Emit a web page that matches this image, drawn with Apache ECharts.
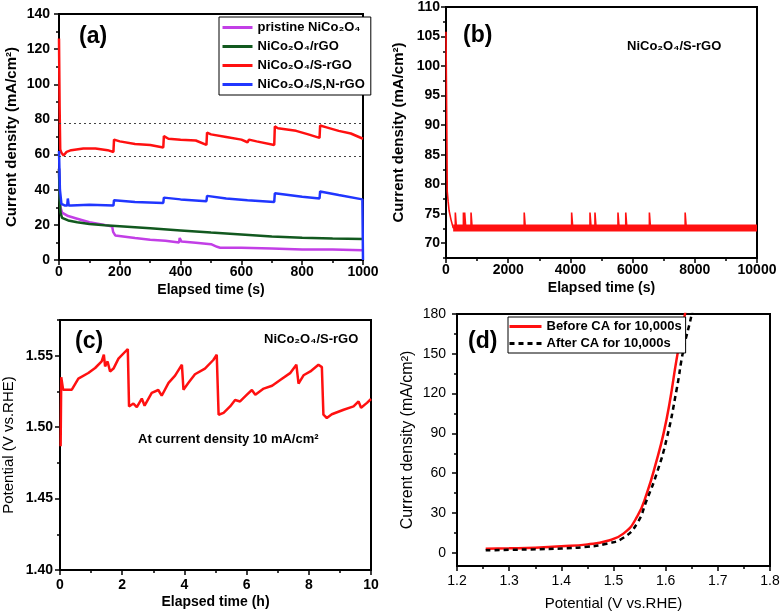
<!DOCTYPE html>
<html><head><meta charset="utf-8">
<script src="https://cdn.jsdelivr.net/npm/echarts@6/dist/echarts.min.js"></script>
<style>html,body{margin:0;padding:0;background:#fff}#c{width:780px;height:614px}</style>
</head><body><div id="c"></div>
<script>
// ---------- Panel (a) data ----------
const aNames = ['pristine NiCo\u2082O\u2084', 'NiCo\u2082O\u2084/rGO', 'NiCo\u2082O\u2084/S-rGO', 'NiCo\u2082O\u2084/S,N-rGO'];
const aPristineT = [0,2,5,10,30,60,100,150,175,178,185,250,300,350,395,397,403,450,500,520,530,600,700,800,900,1000];
const aPristineV = [52,38,30,27,25,23.5,21.5,20,19,16,14,12.5,11.5,11,10,12.5,10.5,9.8,9,7.5,7,7,6.5,6,6,5.5];
const aRgoT = [0,2,5,10,30,60,100,150,200,300,400,500,600,700,800,900,1000];
const aRgoV = [52,35,27,24,22.5,21.5,20.5,19.8,19.2,18,16.8,15.6,14.5,13.4,12.6,12.2,12];
const aSrgoT = [0,2,4,8,15,25,40,80,120,160,179,181,200,250,300,343,345,360,400,450,485,487,500,550,600,620,625,650,708,710,720,780,800,820,857,859,880,920,960,1000];
const aSrgoV = [126,87,63,61,59.5,61.5,62.5,63.5,63.5,62.5,61.5,68.5,67.5,66,65.5,64,70.5,69,68.5,68,65.5,72.5,71.5,70,68.5,67,68.5,67.5,65.5,76,75,73.5,72.5,71.5,69.5,76.5,75.5,73.5,72,69];
const aSnrgoT = [0,3,8,20,27,29,32,40,100,179,181,250,343,345,400,485,487,550,620,708,710,800,857,859,920,998,1000];
const aSnrgoV = [62,40,32,31,31,35,31,31,31.5,31,34,33,32.5,35.5,34.5,33.5,36.5,35,34,33,38,36,35,39,37,34.5,0];
const aRefLines = [78, 59];
const aXMajor = [0,200,400,600,800,1000], aXMinor = [100,300,500,700,900];
const aYMajor = [0,20,40,60,80,100,120,140], aYMinor = [10,30,50,70,90,110,130];

// ---------- Panel (b) data ----------
const bStartT = [0,25,40,70,100,160,230];
const bStartV = [105.8,90,78.8,77,75.5,74,72.6];
const bBase = 72.6, bEnd = 10000, bSpikePeak = 75.2;
const bSpikeT = [300,560,600,805,2515,4040,4630,4790,5530,5780,6540,7690];
const bXMajor = [0,2000,4000,6000,8000,10000], bXMinor = [1000,3000,5000,7000,9000];
const bYMajor = [70,75,80,85,90,95,100,105,110], bYMinor = [67.5,72.5,77.5,82.5,87.5,92.5,97.5,102.5,107.5];

// ---------- Panel (c) data ----------
const cT = [0.02,0.04,0.1,0.38,0.59,0.91,1.13,1.34,1.41,1.45,1.53,1.61,1.72,1.88,2.18,2.22,2.36,2.47,2.63,2.72,2.95,3.16,3.27,3.49,3.7,3.92,3.97,4.13,4.34,4.66,4.93,5.04,5.1,5.26,5.47,5.63,5.79,6.01,6.17,6.28,6.55,6.82,7.08,7.41,7.6,7.67,7.83,8.05,8.31,8.42,8.47,8.58,8.74,9.12,9.44,9.6,9.68,9.87,10];
const cV = [1.4866,1.535,1.5262,1.5262,1.534,1.5379,1.5414,1.546,1.5507,1.5425,1.546,1.539,1.541,1.548,1.5547,1.5145,1.5165,1.514,1.52,1.515,1.524,1.526,1.522,1.531,1.536,1.5437,1.5262,1.531,1.537,1.541,1.547,1.5507,1.5087,1.51,1.5145,1.519,1.518,1.5227,1.526,1.5227,1.527,1.529,1.533,1.538,1.5437,1.5305,1.5363,1.539,1.5437,1.542,1.5087,1.5064,1.509,1.5122,1.5145,1.518,1.5136,1.517,1.5197];
const cXMajor = [0,2,4,6,8,10], cXMinor = [1,3,5,7,9];
const cYMajor = [1.40,1.45,1.50,1.55], cYMinor = [1.425,1.475,1.525,1.575];

// ---------- Panel (d) data ----------
const dNames = ['Before CA for 10,000s', 'After CA for 10,000s'];
const dBeforeE = [1.255,1.3,1.35,1.4,1.45,1.487,1.519,1.545,1.564,1.583,1.596,1.608,1.621,1.637,1.645];
const dBeforeJ = [3,3.3,3.8,4.8,6.3,8.8,14.4,27,45,70,90,114,146,180,198];
const dAfterE = [1.255,1.3,1.35,1.4,1.45,1.487,1.519,1.545,1.564,1.583,1.602,1.621,1.634,1.65,1.658];
const dAfterJ = [1.8,2.2,2.6,3.2,4.5,6.8,11.3,22,40,60,86,123,153,180,198];
const dXMajor = [1.2,1.3,1.4,1.5,1.6,1.7,1.8], dXMinor = [1.25,1.35,1.45,1.55,1.65,1.75];
const dYMajor = [0,30,60,90,120,150,180], dYMinor = [15,45,75,105,135,165];

// ---------- helpers ----------
const FONT = '"Liberation Sans", Arial, sans-serif';
const zip = (a, b) => a.map((v, i) => [v, b[i]]);

function axes(dim, g, c) {
  const pos = dim === 'x' ? 'bottom' : 'left';
  const main = {
    type: 'value', gridIndex: g, min: c.min, max: c.max, position: pos,
    axisLine: {show: true, onZero: false, lineStyle: {color: '#000', width: 2}},
    axisTick: {show: true, inside: false, length: 5, customValues: c.major, lineStyle: {color: '#000', width: 1.5}},
    axisLabel: {show: true, customValues: c.major, formatter: c.fmt, color: '#000', fontFamily: FONT,
      fontSize: c.fs || 14, fontWeight: c.fw || 'bold', margin: c.margin},
    splitLine: {show: false},
    name: c.name, nameLocation: 'middle', nameGap: c.gap,
    nameTextStyle: {color: '#000', fontFamily: FONT, fontSize: c.nfs || 14, fontWeight: c.nfw || 'bold'}
  };
  const minor = {
    type: 'value', gridIndex: g, min: c.min, max: c.max, position: pos,
    axisLine: {show: false, onZero: false},
    axisTick: {show: true, inside: false, length: 3, customValues: c.minor, lineStyle: {color: '#000', width: 1.5}},
    axisLabel: {show: false}, splitLine: {show: false}
  };
  return [main, minor];
}

const int = v => String(Math.round(v));
const f2 = v => v.toFixed(2);
const f1 = v => v.toFixed(1);

const xAxis = [].concat(
  axes('x', 0, {min: 0, max: 1000, major: aXMajor, minor: aXMinor, fmt: int, margin: 5, name: 'Elapsed time (s)', gap: 23}),
  axes('x', 1, {min: 0, max: 10000, major: bXMajor, minor: bXMinor, fmt: int, margin: 5, name: 'Elapsed time (s)', gap: 23}),
  axes('x', 2, {min: 0, max: 10, major: cXMajor, minor: cXMinor, fmt: int, margin: 8, name: 'Elapsed time (h)', gap: 25}),
  axes('x', 3, {min: 1.2, max: 1.8, major: dXMajor, minor: dXMinor, fmt: f1, margin: 8, fw: 'normal', name: 'Potential (V vs.RHE)', gap: 30, nfw: 'normal', nfs: 15})
);
const yAxis = [].concat(
  axes('y', 0, {min: 0, max: 140, major: aYMajor, minor: aYMinor, fmt: int, margin: 9, name: 'Current density (mA/cm\u00b2)', gap: 40, nfs: 15}),
  axes('y', 1, {min: 67.5, max: 110, major: bYMajor, minor: bYMinor, fmt: int, margin: 6, name: 'Current density (mA/cm\u00b2)', gap: 40, nfs: 15}),
  axes('y', 2, {min: 1.40, max: 1.575, major: cYMajor, minor: cYMinor, fmt: f2, margin: 7, name: 'Potential (V vs.RHE)', gap: 44, nfw: 'normal', nfs: 15}),
  axes('y', 3, {min: -10, max: 180, major: dYMajor, minor: dYMinor, fmt: int, margin: 11, fw: 'normal', name: 'Current density (mA/cm\u00b2)', gap: 41, nfw: 'normal', nfs: 16})
);

const gridBase = {show: true, borderColor: '#000', borderWidth: 2, backgroundColor: 'transparent', containLabel: false, outerBoundsMode: 'none'};
const grid = [
  Object.assign({left: 59, top: 14, width: 304, height: 246}, gridBase),
  Object.assign({left: 446, top: 7, width: 311, height: 251}, gridBase),
  Object.assign({left: 60, top: 320, width: 311, height: 250}, gridBase),
  Object.assign({left: 457, top: 314, width: 313, height: 252}, gridBase)
];

// panel b spike series built from data arrays
const bSpikeData = zip(bStartT, bStartV);
bSpikeT.forEach(t => { bSpikeData.push([t - 1, bBase], [t, bSpikePeak], [t + 35, bSpikePeak], [t + 36, bBase]); });
bSpikeData.push([bEnd, bBase]);

function line(name, g, data, color, width, extra) {
  return Object.assign({
    name, type: 'line', xAxisIndex: 2 * g, yAxisIndex: 2 * g, data,
    symbol: 'none', showSymbol: false, animation: false,
    lineStyle: {color, width}, itemStyle: {color}, z: 3
  }, extra || {});
}

const series = [
  line(aNames[0], 0, zip(aPristineT, aPristineV), '#c23fe6', 2.5),
  line(aNames[1], 0, zip(aRgoT, aRgoV), '#12591f', 2.5),
  line(aNames[2], 0, zip(aSrgoT, aSrgoV), '#ff1010', 2.5, {
    markLine: {silent: true, symbol: 'none', label: {show: false}, animation: false,
      lineStyle: {type: [2, 3], color: '#444', width: 1},
      data: aRefLines.map(v => ({yAxis: v}))}
  }),
  line(aNames[3], 0, zip(aSnrgoT, aSnrgoV), '#2036ff', 2.5),
  line('bBand', 1, [[bStartT[bStartT.length - 1], bBase], [bEnd, bBase]], '#ff1010', 7),
  line('bLine', 1, bSpikeData, '#ff1010', 1.6),
  line('cLine', 2, zip(cT, cV), '#ff1010', 2.5),
  line(dNames[0], 3, zip(dBeforeE, dBeforeJ), '#ff1010', 2.5, {smooth: true}),
  line(dNames[1], 3, zip(dAfterE, dAfterJ), '#000', 2.5, {smooth: true, lineStyle: {color: '#000', width: 2.5, type: [5, 4]}})
];

const legendText = {fontFamily: FONT, fontWeight: 'bold', fontSize: 13, color: '#000'};
const legend = [
  {data: aNames, left: 219, top: 17, orient: 'vertical', itemWidth: 30, itemHeight: 14, itemGap: 6,
   borderColor: '#000', borderWidth: 1, padding: [4, 6, 4, 2], backgroundColor: '#fff',
   itemStyle: {opacity: 0}, lineStyle: {width: 3},
   selectedMode: false, textStyle: legendText, z: 10},
  {data: dNames, left: 508, top: 317, orient: 'vertical', itemWidth: 32, itemHeight: 12, itemGap: 4,
   borderColor: '#000', borderWidth: 1, padding: [3, 4, 3, 0], backgroundColor: '#fff',
   itemStyle: {opacity: 0}, lineStyle: {width: 3},
   selectedMode: false, textStyle: legendText, z: 10}
];

function txt(x, y, s, size, weight) {
  return {type: 'text', left: x, top: y, z: 20, style: {text: s, fill: '#000', fontFamily: FONT, fontSize: size, fontWeight: weight}};
}
const graphic = [
  txt(79, 25, '(a)', 23, 'bold'),
  txt(463, 24, '(b)', 23, 'bold'),
  txt(75, 330, '(c)', 23, 'bold'),
  txt(468, 330, '(d)', 23, 'bold'),
  txt(627, 40, 'NiCo\u2082O\u2084/S-rGO', 13, 'bold'),
  txt(264, 333, 'NiCo\u2082O\u2084/S-rGO', 13, 'bold'),
  txt(138, 433, 'At current density 10 mA/cm\u00b2', 13, 'bold')
];

const chart = echarts.init(document.getElementById('c'), null, {renderer: 'canvas'});
chart.setOption({animation: false, backgroundColor: '#fff', grid, xAxis, yAxis, series, legend, graphic});
</script></body></html>
